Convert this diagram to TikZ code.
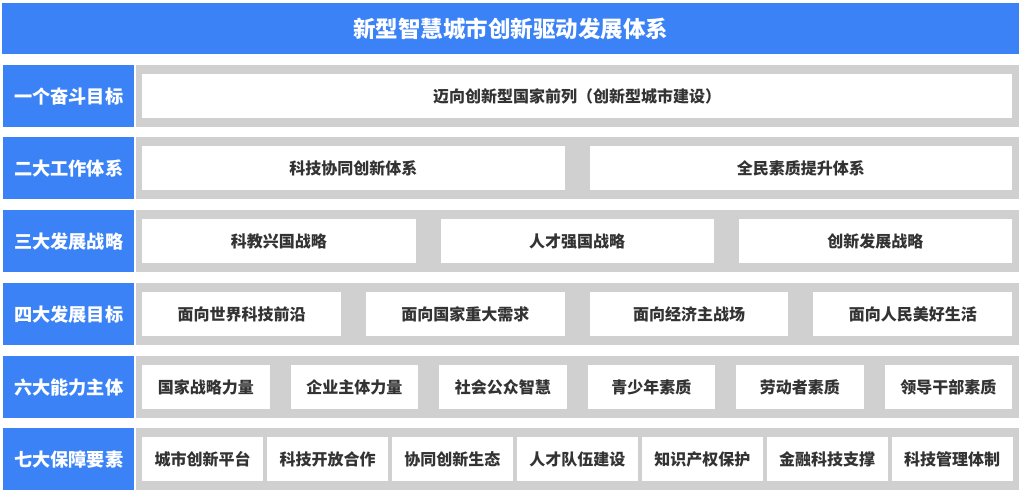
\documentclass[tikz,border=0pt]{standalone}
\usepackage{fontspec}
\setmainfont{Noto Sans CJK SC}
\definecolor{mainblue}{RGB}{58,130,246}
\definecolor{panelgray}{RGB}{208,208,208}
\definecolor{itemtext}{RGB}{51,51,51}
\newcommand{\makerow}[5]{%
  \foreach \t [count=\i from 0] in {#5} {%
    \node[itembox, minimum width=#3pt, anchor=north west] (r#1i\i) at ({142+\i*(#3+#4)},{#2+9}) {\t};
  }}
\begin{document}
\begin{tikzpicture}[x=1pt,y=-1pt,
  titlebox/.style={fill=mainblue, text=white, inner sep=0pt, font=\fontsize{22.5}{26}\selectfont\bfseries},
  labelbox/.style={fill=mainblue, text=white, inner sep=0pt, minimum width=131pt, minimum height=62pt, anchor=north west, font=\fontsize{18.2}{21}\selectfont\bfseries},
  panel/.style={fill=panelgray, inner sep=0pt, minimum width=883pt, minimum height=62pt, anchor=north west},
  itembox/.style={fill=white, text=itemtext, inner sep=0pt, minimum height=44pt, font=\fontsize{16}{19}\selectfont\bfseries}]
\useasboundingbox (0,0) rectangle (1024,493);
\fill[white] (0,0) rectangle (1024,493);
\node[titlebox, anchor=north west, minimum width=1017pt, minimum height=51pt] (title) at (2,3) {新型智慧城市创新驱动发展体系};
% row labels and panels
\node[labelbox] (l1) at (3,65) {一个奋斗目标};
\node[panel] (p1) at (136,65) {};
\node[labelbox] (l2) at (3,137) {二大工作体系};
\node[panel] (p2) at (136,137) {};
\node[labelbox] (l3) at (3,210) {三大发展战略};
\node[panel] (p3) at (136,210) {};
\node[labelbox] (l4) at (3,283) {四大发展目标};
\node[panel] (p4) at (136,283) {};
\node[labelbox] (l5) at (3,356) {六大能力主体};
\node[panel] (p5) at (136,356) {};
\node[labelbox] (l6) at (3,428) {七大保障要素};
\node[panel] (p6) at (136,428) {};
% items
\makerow{1}{65}{870}{0}{迈向创新型国家前列（创新型城市建设）}
\makerow{2}{137}{422.5}{25}{科技协同创新体系,全民素质提升体系}
\makerow{3}{210}{273.3}{25}{科教兴国战略,人才强国战略,创新发展战略}
\makerow{4}{283}{198.75}{25}{面向世界科技前沿,面向国家重大需求,面向经济主战场,面向人民美好生活}
\makerow{5}{356}{127.5}{21}{国家战略力量,企业主体力量,社会公众智慧,青少年素质,劳动者素质,领导干部素质}
\makerow{6}{428}{120.9}{4}{城市创新平台,科技开放合作,协同创新生态,人才队伍建设,知识产权保护,金融科技支撑,科技管理体制}
\end{tikzpicture}
\end{document}
